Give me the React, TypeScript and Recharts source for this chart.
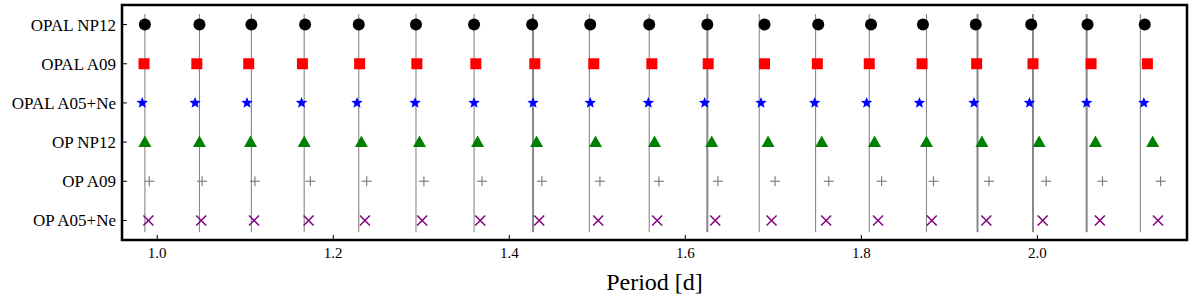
import React from 'react';
import { ScatterChart, Scatter, XAxis, YAxis, ReferenceArea } from 'recharts';

// model names, top to bottom
const models = ['OPAL NP12', 'OPAL A09', 'OPAL A05+Ne', 'OP NP12', 'OP A09', 'OP A05+Ne'];

// observed periods [d] and relative strength (drawn as line weight)
const observed = [0.986, 1.048, 1.107, 1.167, 1.229, 1.294, 1.36, 1.427, 1.491, 1.559, 1.625, 1.684, 1.748, 1.809, 1.874, 1.932, 1.995, 2.056, 2.117];
const observedAmp = [1, 1, 1, 1, 1, 1, 1, 2, 1, 1, 2, 1, 1, 1, 1, 2, 2, 2, 1];

// model periods [d]
const opalNp12 = [0.986, 1.048, 1.107, 1.168, 1.229, 1.294, 1.36, 1.426, 1.492, 1.559, 1.625, 1.69, 1.751, 1.811, 1.87, 1.93, 1.993, 2.057, 2.122];
const opalA09 = [0.985, 1.045, 1.104, 1.165, 1.23, 1.295, 1.362, 1.429, 1.496, 1.562, 1.626, 1.69, 1.75, 1.809, 1.869, 1.931, 1.995, 2.061, 2.125];
const opalA05Ne = [0.983, 1.043, 1.102, 1.164, 1.227, 1.293, 1.36, 1.427, 1.492, 1.558, 1.622, 1.686, 1.747, 1.806, 1.866, 1.928, 1.991, 2.056, 2.121];
const opNp12 = [0.986, 1.048, 1.106, 1.167, 1.232, 1.298, 1.364, 1.431, 1.498, 1.565, 1.63, 1.694, 1.755, 1.815, 1.874, 1.937, 2.002, 2.066, 2.131];
const opA09 = [0.991, 1.051, 1.111, 1.174, 1.238, 1.303, 1.369, 1.437, 1.503, 1.57, 1.637, 1.702, 1.763, 1.823, 1.882, 1.945, 2.01, 2.074, 2.14];
const opA05Ne = [0.99, 1.05, 1.11, 1.172, 1.236, 1.301, 1.367, 1.434, 1.501, 1.568, 1.634, 1.698, 1.76, 1.819, 1.88, 1.942, 2.006, 2.071, 2.137];

const periodTicks = [1.0, 1.2, 1.4, 1.6, 1.8, 2.0];
const rowTicks = [0, 1, 2, 3, 4, 5];

const X_DOMAIN: [number, number] = [0.96, 2.17];
const Y_DOMAIN: [number, number] = [-0.5, 5.5];
const FONT = '"Liberation Serif", "DejaVu Serif", serif';

const rowOf = (i: number) => models.length - 1 - i;
const toPoints = (periods: number[], row: number) => periods.map((p) => ({ x: p, y: rowOf(row) }));

const NoMark = () => <g />;
const CircleMark = ({ cx, cy }: any) => <circle cx={cx} cy={cy} r={6} fill="#000000" />;
const SquareMark = ({ cx, cy }: any) => <rect x={cx - 5.5} y={cy - 5.5} width={11} height={11} fill="#ff0000" />;
const StarMark = ({ cx, cy }: any) => {
  const pts: string[] = [];
  for (let k = 0; k < 10; k++) {
    const r = k % 2 === 0 ? 6 : 2.6;
    const a = -Math.PI / 2 + (k * Math.PI) / 5;
    pts.push(`${cx + r * Math.cos(a)},${cy + r * Math.sin(a)}`);
  }
  return <polygon points={pts.join(' ')} fill="#0000ff" />;
};
const TriangleMark = ({ cx, cy }: any) => (
  <polygon points={`${cx},${cy - 6.5} ${cx + 6.5},${cy + 5} ${cx - 6.5},${cy + 5}`} fill="#008000" />
);
const PlusMark = ({ cx, cy }: any) => (
  <g stroke="#808080" strokeWidth={1.2}>
    <line x1={cx - 5} y1={cy} x2={cx + 5} y2={cy} />
    <line x1={cx} y1={cy - 5} x2={cx} y2={cy + 5} />
  </g>
);
const CrossMark = ({ cx, cy }: any) => (
  <g stroke="#800080" strokeWidth={1.5}>
    <line x1={cx - 5} y1={cy - 5} x2={cx + 5} y2={cy + 5} />
    <line x1={cx - 5} y1={cy + 5} x2={cx + 5} y2={cy - 5} />
  </g>
);

const App = () => {
  return (
    <div style={{ position: 'absolute', left: 0, top: 0, background: '#fff' }}>
      <ScatterChart width={1200} height={303} margin={{ top: 5, right: 13, bottom: 13, left: 7 }}>
        <XAxis
          type="number"
          dataKey="x"
          domain={X_DOMAIN}
          ticks={periodTicks}
          allowDataOverflow
          tickFormatter={(v: number) => v.toFixed(1)}
          height={50}
          tickSize={-5}
          tickMargin={12}
          axisLine={false}
          tickLine={{ stroke: '#000' }}
          tick={{ fill: '#000', fontSize: 15, fontFamily: FONT }}
          label={{ value: 'Period [d]', position: 'insideBottom', offset: 0, fill: '#000', fontSize: 24, fontFamily: FONT }}
        />
        <XAxis
          xAxisId="top"
          orientation="top"
          type="number"
          dataKey="x"
          domain={X_DOMAIN}
          ticks={periodTicks}
          allowDataOverflow
          height={0}
          tickSize={-5}
          tick={false}
          axisLine={false}
          tickLine={{ stroke: '#000' }}
        />
        <YAxis
          type="number"
          dataKey="y"
          domain={Y_DOMAIN}
          ticks={rowTicks}
          allowDataOverflow
          width={115}
          tickSize={-5}
          tickMargin={11}
          tickFormatter={(v: number) => models[models.length - 1 - v]}
          axisLine={false}
          tickLine={{ stroke: '#000' }}
          tick={{ fill: '#000', fontSize: 17, fontFamily: FONT }}
        />
        <YAxis
          yAxisId="right"
          orientation="right"
          type="number"
          dataKey="y"
          domain={Y_DOMAIN}
          ticks={rowTicks}
          allowDataOverflow
          width={0}
          tickSize={-5}
          tick={false}
          axisLine={false}
          tickLine={{ stroke: '#000' }}
        />
        {/* binds the top and right axes so their ticks are drawn */}
        <Scatter xAxisId="top" yAxisId="right" data={toPoints(opalNp12, 0)} shape={NoMark} isAnimationActive={false} />
        {observed.map((p, i) => (
          <Scatter
            key={`obs-${i}`}
            data={[{ x: p, y: -0.3 }, { x: p, y: 5.27 }]}
            line={{ stroke: '#888888', strokeWidth: observedAmp[i] > 1 ? 2 : 1.1 }}
            shape={NoMark}
            isAnimationActive={false}
          />
        ))}
        <Scatter data={toPoints(opalNp12, 0)} shape={CircleMark} isAnimationActive={false} />
        <Scatter data={toPoints(opalA09, 1)} shape={SquareMark} isAnimationActive={false} />
        <Scatter data={toPoints(opalA05Ne, 2)} shape={StarMark} isAnimationActive={false} />
        <Scatter data={toPoints(opNp12, 3)} shape={TriangleMark} isAnimationActive={false} />
        <Scatter data={toPoints(opA09, 4)} shape={PlusMark} isAnimationActive={false} />
        <Scatter data={toPoints(opA05Ne, 5)} shape={CrossMark} isAnimationActive={false} />
        <ReferenceArea
          x1={X_DOMAIN[0]}
          x2={X_DOMAIN[1]}
          y1={Y_DOMAIN[0]}
          y2={Y_DOMAIN[1]}
          fill="none"
          stroke="#000"
          strokeWidth={2.5}
          ifOverflow="visible"
        />
      </ScatterChart>
    </div>
  );
};

export default App;
